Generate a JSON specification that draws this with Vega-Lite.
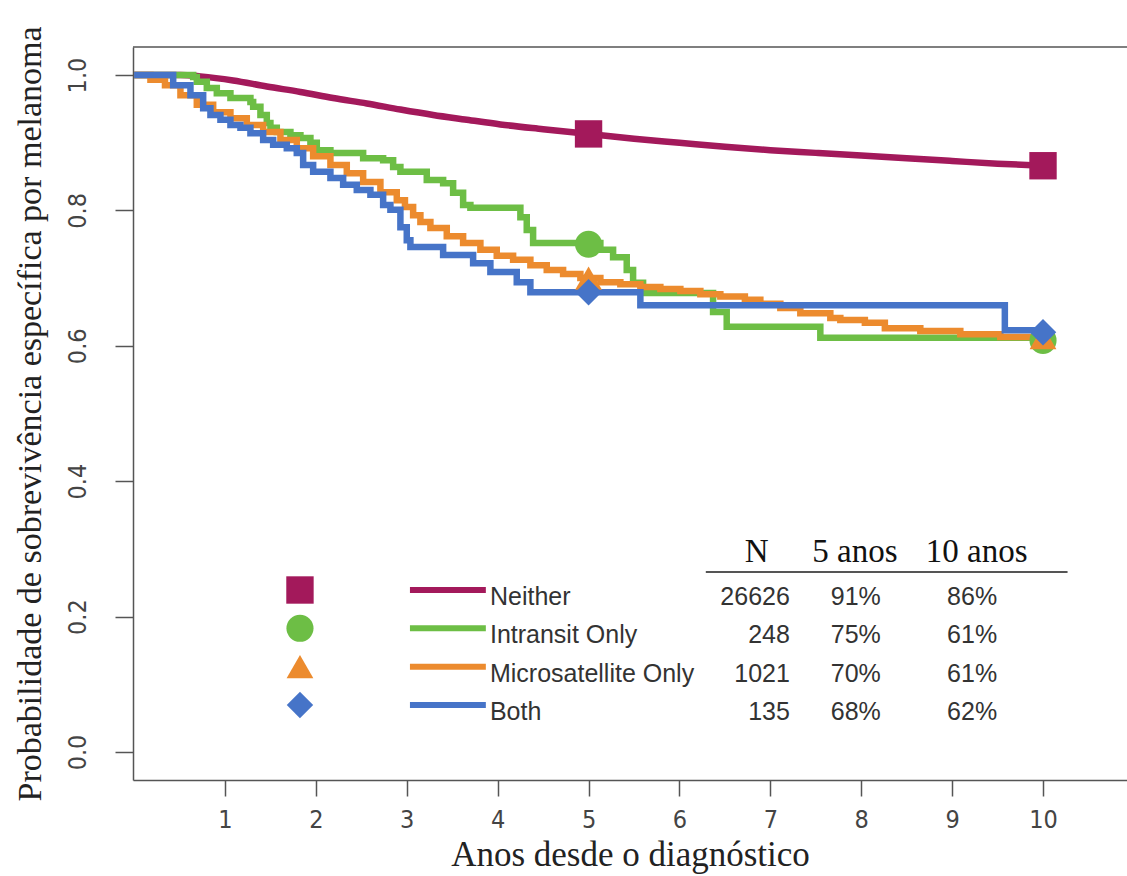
{
  "$schema": "https://vega.github.io/schema/vega-lite/v6.json",
  "width": 994,
  "height": 733,
  "autosize": {"type": "none"},
  "padding": {"left": 133, "top": 47, "right": 0, "bottom": 96},
  "background": "white",
  "config": {"view": {"stroke": null}, "font": "Liberation Sans", "axis": {"grid": false}},
  "datasets": {
    "neither": [
      {"t": 0, "s": 1.0}, {"t": 0.51, "s": 1.0}, {"t": 0.73, "s": 0.998}, {"t": 1.09, "s": 0.992},
      {"t": 1.46, "s": 0.983}, {"t": 1.83, "s": 0.975}, {"t": 2.19, "s": 0.966}, {"t": 2.56, "s": 0.958},
      {"t": 2.93, "s": 0.949}, {"t": 3.29, "s": 0.941}, {"t": 3.66, "s": 0.934}, {"t": 4.03, "s": 0.927},
      {"t": 4.5, "s": 0.920}, {"t": 5.0, "s": 0.913}, {"t": 5.5, "s": 0.906}, {"t": 6.0, "s": 0.900},
      {"t": 6.5, "s": 0.894}, {"t": 7.0, "s": 0.889}, {"t": 7.5, "s": 0.885}, {"t": 8.0, "s": 0.881},
      {"t": 8.5, "s": 0.877}, {"t": 9.0, "s": 0.873}, {"t": 9.5, "s": 0.869}, {"t": 10.0, "s": 0.866}
    ],
    "curves": [
      {"group": "Intransit Only", "t": 0, "s": 1.0},
      {"group": "Intransit Only", "t": 0.65, "s": 0.997},
      {"group": "Intransit Only", "t": 0.69, "s": 0.990},
      {"group": "Intransit Only", "t": 0.80, "s": 0.981},
      {"group": "Intransit Only", "t": 0.91, "s": 0.973},
      {"group": "Intransit Only", "t": 1.06, "s": 0.966},
      {"group": "Intransit Only", "t": 1.28, "s": 0.960},
      {"group": "Intransit Only", "t": 1.31, "s": 0.953},
      {"group": "Intransit Only", "t": 1.39, "s": 0.941},
      {"group": "Intransit Only", "t": 1.46, "s": 0.929},
      {"group": "Intransit Only", "t": 1.50, "s": 0.922},
      {"group": "Intransit Only", "t": 1.57, "s": 0.916},
      {"group": "Intransit Only", "t": 1.72, "s": 0.911},
      {"group": "Intransit Only", "t": 1.83, "s": 0.907},
      {"group": "Intransit Only", "t": 1.94, "s": 0.900},
      {"group": "Intransit Only", "t": 2.01, "s": 0.889},
      {"group": "Intransit Only", "t": 2.16, "s": 0.885},
      {"group": "Intransit Only", "t": 2.52, "s": 0.877},
      {"group": "Intransit Only", "t": 2.74, "s": 0.874},
      {"group": "Intransit Only", "t": 2.85, "s": 0.864},
      {"group": "Intransit Only", "t": 2.93, "s": 0.857},
      {"group": "Intransit Only", "t": 3.22, "s": 0.845},
      {"group": "Intransit Only", "t": 3.40, "s": 0.840},
      {"group": "Intransit Only", "t": 3.51, "s": 0.826},
      {"group": "Intransit Only", "t": 3.62, "s": 0.808},
      {"group": "Intransit Only", "t": 3.70, "s": 0.804},
      {"group": "Intransit Only", "t": 4.25, "s": 0.790},
      {"group": "Intransit Only", "t": 4.32, "s": 0.771},
      {"group": "Intransit Only", "t": 4.39, "s": 0.752},
      {"group": "Intransit Only", "t": 5.13, "s": 0.742},
      {"group": "Intransit Only", "t": 5.27, "s": 0.731},
      {"group": "Intransit Only", "t": 5.42, "s": 0.712},
      {"group": "Intransit Only", "t": 5.49, "s": 0.693},
      {"group": "Intransit Only", "t": 5.60, "s": 0.678},
      {"group": "Intransit Only", "t": 6.37, "s": 0.650},
      {"group": "Intransit Only", "t": 6.52, "s": 0.628},
      {"group": "Intransit Only", "t": 7.55, "s": 0.612},
      {"group": "Intransit Only", "t": 10.0, "s": 0.612},
      {"group": "Microsatellite Only", "t": 0, "s": 1.0},
      {"group": "Microsatellite Only", "t": 0.18, "s": 0.993},
      {"group": "Microsatellite Only", "t": 0.34, "s": 0.985},
      {"group": "Microsatellite Only", "t": 0.51, "s": 0.970},
      {"group": "Microsatellite Only", "t": 0.69, "s": 0.956},
      {"group": "Microsatellite Only", "t": 0.87, "s": 0.945},
      {"group": "Microsatellite Only", "t": 1.06, "s": 0.936},
      {"group": "Microsatellite Only", "t": 1.24, "s": 0.926},
      {"group": "Microsatellite Only", "t": 1.42, "s": 0.916},
      {"group": "Microsatellite Only", "t": 1.61, "s": 0.904},
      {"group": "Microsatellite Only", "t": 1.79, "s": 0.892},
      {"group": "Microsatellite Only", "t": 1.97, "s": 0.880},
      {"group": "Microsatellite Only", "t": 2.16, "s": 0.867},
      {"group": "Microsatellite Only", "t": 2.34, "s": 0.855},
      {"group": "Microsatellite Only", "t": 2.52, "s": 0.842},
      {"group": "Microsatellite Only", "t": 2.71, "s": 0.827},
      {"group": "Microsatellite Only", "t": 2.89, "s": 0.815},
      {"group": "Microsatellite Only", "t": 2.98, "s": 0.805},
      {"group": "Microsatellite Only", "t": 3.07, "s": 0.793},
      {"group": "Microsatellite Only", "t": 3.15, "s": 0.783},
      {"group": "Microsatellite Only", "t": 3.26, "s": 0.774},
      {"group": "Microsatellite Only", "t": 3.44, "s": 0.762},
      {"group": "Microsatellite Only", "t": 3.62, "s": 0.752},
      {"group": "Microsatellite Only", "t": 3.81, "s": 0.742},
      {"group": "Microsatellite Only", "t": 3.99, "s": 0.733},
      {"group": "Microsatellite Only", "t": 4.17, "s": 0.727},
      {"group": "Microsatellite Only", "t": 4.36, "s": 0.719},
      {"group": "Microsatellite Only", "t": 4.54, "s": 0.712},
      {"group": "Microsatellite Only", "t": 4.72, "s": 0.706},
      {"group": "Microsatellite Only", "t": 4.91, "s": 0.700},
      {"group": "Microsatellite Only", "t": 5.13, "s": 0.694},
      {"group": "Microsatellite Only", "t": 5.35, "s": 0.691},
      {"group": "Microsatellite Only", "t": 5.57, "s": 0.687},
      {"group": "Microsatellite Only", "t": 5.79, "s": 0.684},
      {"group": "Microsatellite Only", "t": 6.01, "s": 0.681},
      {"group": "Microsatellite Only", "t": 6.23, "s": 0.676},
      {"group": "Microsatellite Only", "t": 6.45, "s": 0.673},
      {"group": "Microsatellite Only", "t": 6.72, "s": 0.668},
      {"group": "Microsatellite Only", "t": 6.89, "s": 0.662},
      {"group": "Microsatellite Only", "t": 7.11, "s": 0.656},
      {"group": "Microsatellite Only", "t": 7.33, "s": 0.648},
      {"group": "Microsatellite Only", "t": 7.66, "s": 0.641},
      {"group": "Microsatellite Only", "t": 7.77, "s": 0.638},
      {"group": "Microsatellite Only", "t": 8.04, "s": 0.634},
      {"group": "Microsatellite Only", "t": 8.26, "s": 0.626},
      {"group": "Microsatellite Only", "t": 8.65, "s": 0.622},
      {"group": "Microsatellite Only", "t": 9.09, "s": 0.617},
      {"group": "Microsatellite Only", "t": 9.53, "s": 0.613},
      {"group": "Microsatellite Only", "t": 10.0, "s": 0.613},
      {"group": "Both", "t": 0, "s": 1.0},
      {"group": "Both", "t": 0.32, "s": 1.0},
      {"group": "Both", "t": 0.43, "s": 0.985},
      {"group": "Both", "t": 0.62, "s": 0.970},
      {"group": "Both", "t": 0.76, "s": 0.951},
      {"group": "Both", "t": 0.84, "s": 0.941},
      {"group": "Both", "t": 0.95, "s": 0.934},
      {"group": "Both", "t": 1.06, "s": 0.926},
      {"group": "Both", "t": 1.17, "s": 0.922},
      {"group": "Both", "t": 1.28, "s": 0.914},
      {"group": "Both", "t": 1.42, "s": 0.904},
      {"group": "Both", "t": 1.53, "s": 0.897},
      {"group": "Both", "t": 1.68, "s": 0.892},
      {"group": "Both", "t": 1.79, "s": 0.885},
      {"group": "Both", "t": 1.86, "s": 0.867},
      {"group": "Both", "t": 1.97, "s": 0.857},
      {"group": "Both", "t": 2.16, "s": 0.848},
      {"group": "Both", "t": 2.30, "s": 0.838},
      {"group": "Both", "t": 2.45, "s": 0.830},
      {"group": "Both", "t": 2.60, "s": 0.823},
      {"group": "Both", "t": 2.74, "s": 0.808},
      {"group": "Both", "t": 2.82, "s": 0.801},
      {"group": "Both", "t": 2.93, "s": 0.775},
      {"group": "Both", "t": 3.00, "s": 0.756},
      {"group": "Both", "t": 3.04, "s": 0.746},
      {"group": "Both", "t": 3.40, "s": 0.734},
      {"group": "Both", "t": 3.73, "s": 0.722},
      {"group": "Both", "t": 3.92, "s": 0.709},
      {"group": "Both", "t": 4.21, "s": 0.694},
      {"group": "Both", "t": 4.36, "s": 0.679},
      {"group": "Both", "t": 5.57, "s": 0.660},
      {"group": "Both", "t": 9.58, "s": 0.623},
      {"group": "Both", "t": 10.0, "s": 0.623}
    ],
    "markers": [
      {"group": "Neither", "t": 5, "s": 0.913},
      {"group": "Neither", "t": 10, "s": 0.866},
      {"group": "Intransit Only", "t": 5, "s": 0.750},
      {"group": "Intransit Only", "t": 10, "s": 0.608},
      {"group": "Microsatellite Only", "t": 5, "s": 0.700},
      {"group": "Microsatellite Only", "t": 10, "s": 0.612},
      {"group": "Both", "t": 5, "s": 0.679},
      {"group": "Both", "t": 10, "s": 0.620}
    ],
    "table": [
      {"group": "Neither", "n": "26626", "s5": "91%", "s10": "86%"},
      {"group": "Intransit Only", "n": "248", "s5": "75%", "s10": "61%"},
      {"group": "Microsatellite Only", "n": "1021", "s5": "70%", "s10": "61%"},
      {"group": "Both", "n": "135", "s5": "68%", "s10": "62%"}
    ]
  },
  "layer": [
    {
      "layer": [
        {
          "data": {"name": "neither"},
          "mark": {"type": "line", "interpolate": "monotone", "strokeWidth": 6.5, "color": "#A3195B"},
          "encoding": {
            "x": {"field": "t", "type": "quantitative", "scale": {"domain": [-0.012, 10.924], "nice": false, "zero": false},
              "axis": {"values": [1, 2, 3, 4, 5, 6, 7, 8, 9, 10], "format": "d", "labelFont": "Liberation Sans Narrow, DejaVu Sans Condensed, sans-serif", "labelFontSize": 25, "labelColor": "#444", "tickSize": 16, "tickColor": "#555", "tickWidth": 1.5, "domainColor": "#555", "domainWidth": 1.5, "labelPadding": 11, "title": "Anos desde o diagnóstico", "titleFont": "Liberation Serif", "titleFontSize": 35, "titleFontWeight": "normal", "titleColor": "#222", "titlePadding": 5}},
            "y": {"field": "s", "type": "quantitative", "scale": {"domain": [-0.0414, 1.0414], "nice": false, "zero": false},
              "axis": {"values": [0, 0.2, 0.4, 0.6, 0.8, 1.0], "format": ".1f", "labelAngle": 270, "labelAlign": "center", "labelBaseline": "bottom", "labelFont": "Liberation Sans Narrow, DejaVu Sans Condensed, sans-serif", "labelFontSize": 25, "labelColor": "#444", "tickSize": 18, "tickColor": "#555", "tickWidth": 1.5, "domainColor": "#555", "domainWidth": 1.5, "labelPadding": 25, "title": "Probabilidade de sobrevivência específica por melanoma", "titleFont": "Liberation Serif", "titleFontSize": 34, "titleFontWeight": "normal", "titleColor": "#222", "titlePadding": 18}}
          }
        },
        {
          "data": {"name": "curves"},
          "transform": [{"filter": "datum.group === 'Intransit Only'"}],
          "mark": {"type": "line", "interpolate": "step-after", "strokeWidth": 6.5, "color": "#6DBE45"},
          "encoding": {"x": {"field": "t", "type": "quantitative"}, "y": {"field": "s", "type": "quantitative"}}
        },
        {
          "data": {"name": "curves"},
          "transform": [{"filter": "datum.group === 'Microsatellite Only'"}],
          "mark": {"type": "line", "interpolate": "step-after", "strokeWidth": 6.5, "color": "#EC8B2E"},
          "encoding": {"x": {"field": "t", "type": "quantitative"}, "y": {"field": "s", "type": "quantitative"}}
        },
        {
          "data": {"name": "curves"},
          "transform": [{"filter": "datum.group === 'Both'"}],
          "mark": {"type": "line", "interpolate": "step-after", "strokeWidth": 6.5, "color": "#4674C8"},
          "encoding": {"x": {"field": "t", "type": "quantitative"}, "y": {"field": "s", "type": "quantitative"}}
        },
        {
          "data": {"name": "markers"},
          "mark": {"type": "point", "filled": true, "opacity": 1},
          "encoding": {
            "x": {"field": "t", "type": "quantitative"},
            "y": {"field": "s", "type": "quantitative"},
            "color": {"field": "group", "type": "nominal", "legend": null, "scale": {"domain": ["Neither", "Intransit Only", "Microsatellite Only", "Both"], "range": ["#A3195B", "#6DBE45", "#EC8B2E", "#4674C8"]}},
            "shape": {"field": "group", "type": "nominal", "legend": null, "scale": {"domain": ["Neither", "Intransit Only", "Microsatellite Only", "Both"], "range": ["square", "circle", "triangle-up", "diamond"]}},
            "size": {"field": "group", "type": "nominal", "legend": null, "scale": {"domain": ["Neither", "Intransit Only", "Microsatellite Only", "Both"], "range": [750, 700, 420, 750]}}
          }
        },
        {
          "data": {"values": [{}]},
          "mark": {"type": "rule", "color": "#555", "strokeWidth": 1.5},
          "encoding": {"y": {"datum": 1.0414, "type": "quantitative"}}
        },
        {
          "data": {"values": [{}]},
          "mark": {"type": "rule", "color": "#555", "strokeWidth": 2},
          "encoding": {"x": {"datum": 6.29, "type": "quantitative"}, "x2": {"datum": 10.27}, "y": {"datum": 0.266, "type": "quantitative"}}
        },
        {
          "data": {"values": [{}]},
          "mark": {"type": "text", "font": "Liberation Serif", "fontSize": 33, "color": "#111", "align": "center", "baseline": "middle"},
          "encoding": {"x": {"datum": 6.85, "type": "quantitative"}, "y": {"datum": 0.295, "type": "quantitative"}, "text": {"value": "N"}}
        },
        {
          "data": {"values": [{}]},
          "mark": {"type": "text", "font": "Liberation Serif", "fontSize": 33, "color": "#111", "align": "center", "baseline": "middle"},
          "encoding": {"x": {"datum": 7.93, "type": "quantitative"}, "y": {"datum": 0.295, "type": "quantitative"}, "text": {"value": "5 anos"}}
        },
        {
          "data": {"values": [{}]},
          "mark": {"type": "text", "font": "Liberation Serif", "fontSize": 33, "color": "#111", "align": "center", "baseline": "middle"},
          "encoding": {"x": {"datum": 9.27, "type": "quantitative"}, "y": {"datum": 0.295, "type": "quantitative"}, "text": {"value": "10 anos"}}
        }
      ]
    },
    {
      "data": {"name": "table"},
      "encoding": {
        "y": {"field": "group", "type": "ordinal", "axis": null, "scale": {"type": "point", "domain": ["Neither", "Intransit Only", "Microsatellite Only", "Both"], "range": [543, 658], "padding": 0}}
      },
      "layer": [
        {
          "mark": {"type": "point", "filled": true, "opacity": 1},
          "encoding": {
            "x": {"datum": 1.825, "type": "quantitative"},
            "color": {"field": "group", "type": "nominal", "legend": null, "scale": {"domain": ["Neither", "Intransit Only", "Microsatellite Only", "Both"], "range": ["#A3195B", "#6DBE45", "#EC8B2E", "#4674C8"]}},
            "shape": {"field": "group", "type": "nominal", "legend": null, "scale": {"domain": ["Neither", "Intransit Only", "Microsatellite Only", "Both"], "range": ["square", "circle", "triangle-up", "diamond"]}},
            "size": {"field": "group", "type": "nominal", "legend": null, "scale": {"domain": ["Neither", "Intransit Only", "Microsatellite Only", "Both"], "range": [460, 420, 280, 420]}}
          }
        },
        {
          "mark": {"type": "rule", "strokeWidth": 6},
          "encoding": {
            "x": {"datum": 3.035, "type": "quantitative"},
            "x2": {"datum": 3.87},
            "color": {"field": "group", "type": "nominal", "legend": null}
          }
        },
        {
          "mark": {"type": "text", "align": "left", "baseline": "middle", "dy": 7, "font": "Liberation Sans", "fontSize": 25, "color": "#333"},
          "encoding": {"x": {"datum": 3.915, "type": "quantitative"}, "text": {"field": "group"}}
        },
        {
          "mark": {"type": "text", "align": "right", "baseline": "middle", "dy": 7, "font": "Liberation Sans", "fontSize": 25, "color": "#333"},
          "encoding": {"x": {"datum": 7.215, "type": "quantitative"}, "text": {"field": "n"}}
        },
        {
          "mark": {"type": "text", "align": "center", "baseline": "middle", "dy": 7, "font": "Liberation Sans", "fontSize": 25, "color": "#333"},
          "encoding": {"x": {"datum": 7.94, "type": "quantitative"}, "text": {"field": "s5"}}
        },
        {
          "mark": {"type": "text", "align": "center", "baseline": "middle", "dy": 7, "font": "Liberation Sans", "fontSize": 25, "color": "#333"},
          "encoding": {"x": {"datum": 9.22, "type": "quantitative"}, "text": {"field": "s10"}}
        }
      ]
    }
  ],
  "resolve": {"scale": {"y": "independent"}}
}
